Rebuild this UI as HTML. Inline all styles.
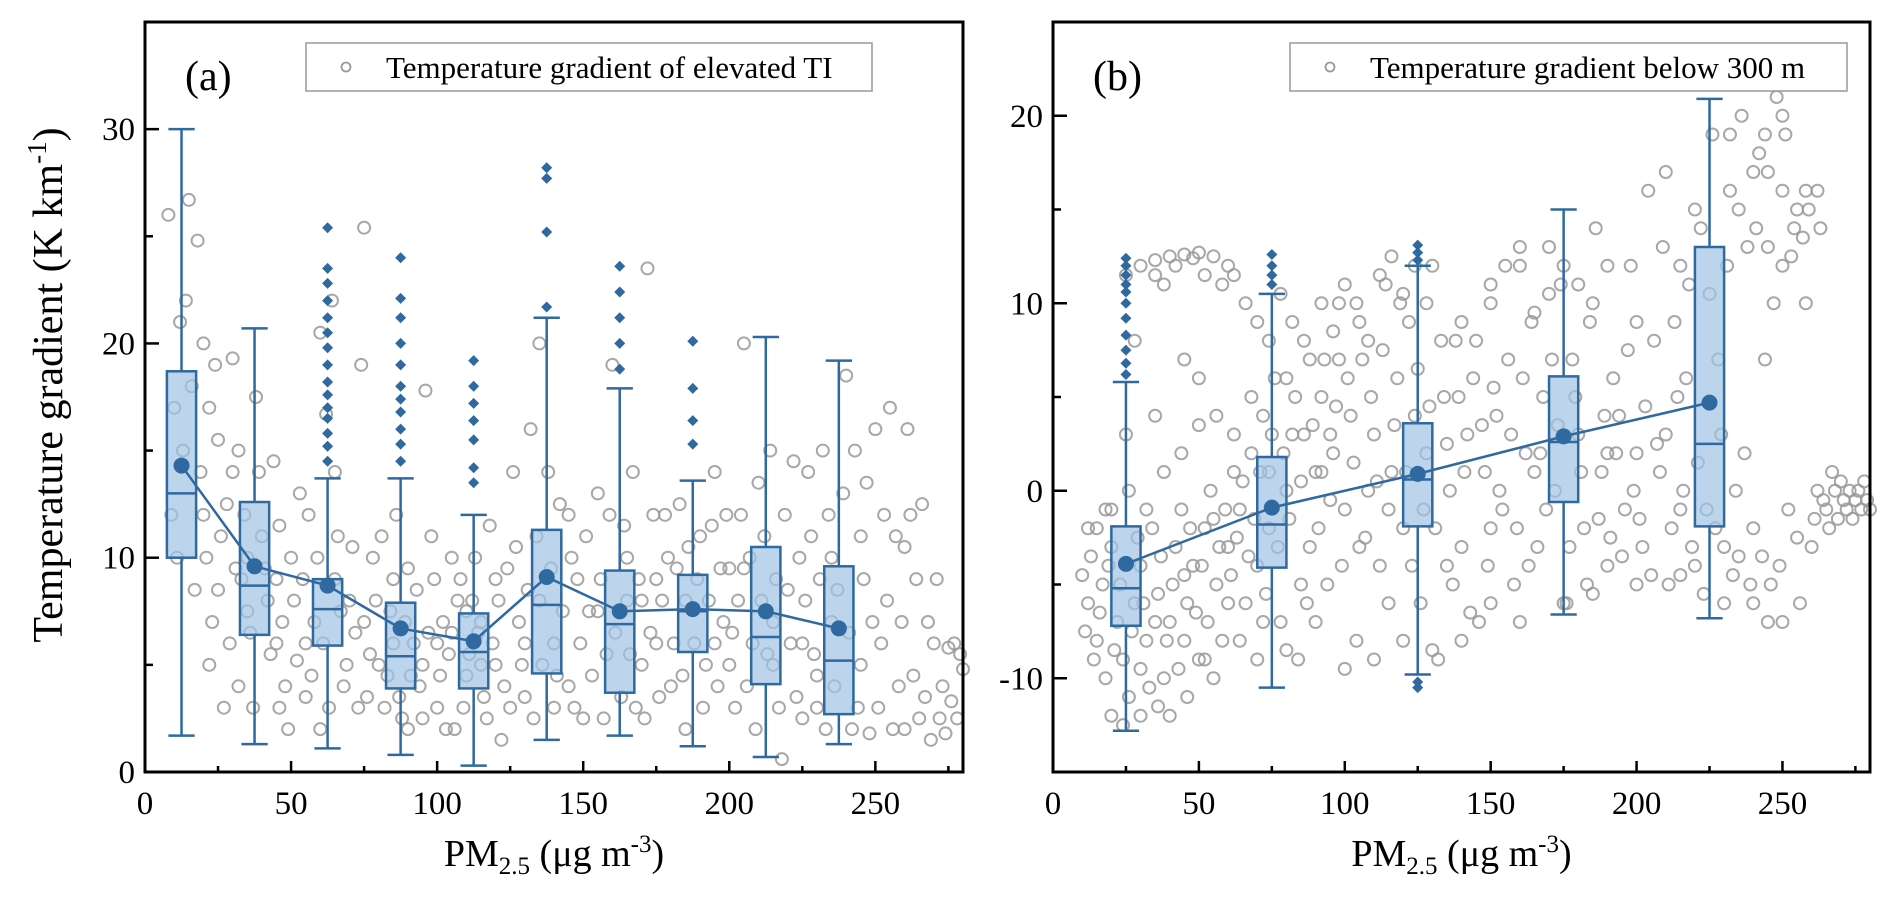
<!DOCTYPE html>
<html><head><meta charset="utf-8"><style>
html,body{margin:0;padding:0;background:#fff}
svg{display:block;font-family:"Liberation Serif",serif}
</style></head><body>
<svg id="chart" width="1892" height="903" viewBox="0 0 1892 903">
<g id="ga"></g>
<g id="gb"></g>
</svg>
<script>
// ---------- Panel (a) data ----------
const aCenters = [12.5,37.5,62.5,87.5,112.5,137.5,162.5,187.5,212.5,237.5];
const aWhiskLo = [1.7,1.3,1.1,0.8,0.3,1.5,1.7,1.2,0.7,1.3];
const aQ1 = [10,6.4,5.9,3.9,3.9,4.6,3.7,5.6,4.1,2.7];
const aMed = [13,8.7,7.6,5.4,5.6,7.8,6.9,7.5,6.3,5.2];
const aQ3 = [18.7,12.6,9.0,7.9,7.4,11.3,9.4,9.2,10.5,9.6];
const aWhiskHi = [30,20.7,13.7,13.7,12,21.2,17.9,13.6,20.3,19.2];
const aMean = [14.3,9.6,8.7,6.7,6.1,9.1,7.5,7.6,7.5,6.7];
const aOutliers = [[],[],[14.5,15.2,15.8,16.5,17,17.6,18.2,19,19.8,20.5,21.2,22,22.8,23.5,25.4],[14.5,15.3,16,16.8,17.4,18,19,20,21.2,22.1,24],[13.5,14.2,15.5,16.4,17.2,18,19.2],[21.7,25.2,27.7,28.2],[18.8,20,21.2,22.4,23.6],[15.3,16.4,17.9,20.1],[],[]];
const aPts = [[15,26.7],[18,24.8],[20,20],[22,17],[25,15.5],[28,12.5],[30,19.3],[33,9],[35,7.5],[17,8.5],[22,5],[27,3],[30,14],[38,17.5],[40,11],[42,8],[45,6],[48,4],[44,14.5],[50,10],[52,5.2],[55,3.5],[58,7],[56,12],[60,20.5],[62,16.7],[64,22],[66,11],[68,4],[70,8],[72,6.5],[74,19],[75,25.4],[78,10],[80,5],[82,3],[84,7.5],[86,12],[88,2.5],[90,9.5],[92,6],[94,4],[96,17.8],[98,11],[100,3],[102,7],[104,5.5],[106,2],[108,9],[110,4.5],[112,8],[114,6.5],[116,3.5],[118,11.5],[120,5],[122,1.5],[124,9.5],[126,14],[128,7],[130,3.5],[132,16],[135,20],[140,6],[142,12.5],[145,4],[148,9],[150,2.5],[152,7.5],[155,13],[158,5.5],[160,19],[165,10],[168,3],[170,8],[172,23.5],[175,6],[178,12],[180,4],[182,9.5],[185,2],[190,11],[192,5],[195,14],[198,7],[200,9.5],[202,3],[205,20],[208,6],[210,13.5],[215,5],[218,0.6],[220,8.5],[222,14.5],[225,2.5],[228,11],[230,4.5],[232,15],[235,7],[240,18.5],[242,2],[245,11],[248,1.8],[250,16],[252,6],[255,17],[258,4],[260,10.5],[262,12],[265,2.5],[268,7],[270,6],[275,5.8],[280,4.8],[25,8.5],[35,10],[45,9],[55,6],[65,9],[75,7],[85,6],[95,5],[105,10],[115,5],[125,3],[135,8],[145,12],[155,7.5],[165,8],[175,9],[185,8],[195,6],[205,9.5],[215,7],[225,6],[235,10],[245,5],[260,2],[20,12],[32,15],[46,3],[60,2],[76,3.5],[90,2],[100,6],[110,7.5],[120,9],[130,6],[140,3],[170,5],[200,5],[230,3]];
const aPts2 = [[14,22],[16,18],[19,14],[21,10],[23,7],[24,19],[26,11],[29,6],[31,9.5],[32,4],[34,12],[36,6.5],[37,3],[39,14],[41,9.5],[43,5.5],[46,11.5],[47,7],[49,2],[51,8],[53,13],[54,9],[57,4.5],[59,10],[61,6],[63,3],[65,14],[67,7.5],[69,5],[71,10.5],[73,3],[77,5.5],[79,8],[81,11],[83,4.5],[85,9],[87,3.5],[89,7],[91,4.5],[93,8.5],[95,2.5],[97,6.5],[99,9],[101,4.5],[103,2],[105,6.5],[107,8],[109,3],[111,5.5],[113,10],[115,7],[117,2.5],[119,6],[121,8],[123,4],[127,10.5],[129,5],[131,8.5],[133,2.5],[134,11],[136,5],[138,14],[139,9.5],[141,4.5],[143,7.5],[146,10],[147,3],[149,6],[151,11],[153,4.5],[156,9],[157,2.5],[159,12],[161,6.5],[163,3.5],[164,11.5],[166,5.5],[167,14],[169,9],[171,2.5],[173,6.5],[174,12],[176,3.5],[177,8],[179,10],[181,6],[183,12.5],[184,4.5],[186,10.5],[188,6],[189,9],[191,3],[193,8],[194,11.5],[196,4],[197,9.5],[199,12],[201,6.5],[203,8],[204,12],[206,4],[207,10],[209,2],[211,8],[212,11],[213,5.5],[214,15],[216,9],[217,3],[219,12],[221,6],[223,3.5],[224,10],[226,8],[227,14],[229,5.5],[231,9],[233,2],[234,12],[236,4],[237,8.5],[239,13],[241,6.5],[243,15],[244,3],[246,9],[247,13.5],[249,7],[251,3],[253,12],[254,8],[256,2],[257,11],[259,7],[261,16],[263,4.5],[264,9],[266,12.5],[267,3.5],[269,1.5],[271,9],[272,2.5],[273,4],[274,1.8],[276,3.3],[277,6],[278,2.5],[279,5.5],[10,17],[11,10],[12,21],[13,15],[9,12],[8,26]];
const aYTicks = [0,10,20,30];
const aXTicks = [0,50,100,150,200,250];

// ---------- Panel (b) data ----------
const bCenters = [25,75,125,175,225];
const bWhiskLo = [-12.8,-10.5,-9.8,-6.6,-6.8];
const bQ1 = [-7.2,-4.1,-1.9,-0.6,-1.9];
const bMed = [-5.2,-1.8,0.6,2.6,2.5];
const bQ3 = [-1.9,1.8,3.6,6.1,13];
const bWhiskHi = [5.8,10.5,12,15,20.9];
const bMean = [-3.9,-0.9,0.9,2.9,4.7];
const bOutliers = [[6.2,6.8,7.5,8.3,9.2,10,10.6,11,11.5,12,12.4],[11,11.5,12,12.6],[12.3,12.7,13.1,-10.2,-10.5],[],[]];
const bPts = [[10,-4.5],[12,-6],[15,-8],[17,-5],[18,-10],[20,-3],[22,-7],[24,-9],[26,-11],[28,-6],[30,-4],[32,-8],[34,-2],[36,-5.5],[38,-10],[40,-7],[42,-3],[44,-1],[46,-6],[48,-4],[50,-9],[52,-2],[54,0],[56,-5],[58,-8],[60,-3],[62,1],[64,-1],[66,-6],[68,2],[70,-4],[72,4],[74,-2],[76,6],[78,-7],[80,0],[82,3],[84,-9],[86,8],[88,-3],[90,1],[92,5],[94,-5],[96,2],[98,10],[100,-1],[102,4],[104,-8],[106,7],[108,0],[110,3],[112,-4],[114,11],[116,1],[118,6],[120,-2],[122,9],[124,4],[126,-6],[128,2],[130,12],[132,-9],[134,5],[136,0],[138,8],[140,-3],[142,3],[144,6],[146,-7],[148,1],[150,10],[152,4],[154,-1],[156,7],[158,-5],[160,12],[162,2],[164,9],[166,-3],[168,5],[170,13],[172,0],[174,11],[176,-6],[178,7],[180,3],[182,-2],[184,9],[186,14],[188,1],[190,-4],[192,6],[194,4],[196,-1],[198,12],[200,2],[202,-3],[204,16],[206,8],[208,1],[210,17],[212,-2],[214,5],[216,0],[218,11],[220,-4],[222,14],[224,-1],[226,19],[228,7],[230,-3],[232,16],[234,0],[236,20],[238,13],[240,-2],[242,18],[244,7],[246,-5],[248,21],[250,16],[252,-1],[254,14],[256,-6],[258,10],[260,-3],[262,0],[265,-1],[268,0],[272,-1],[276,0],[280,-1],[25,11.5],[30,12],[35,12.3],[40,12.5],[45,12.6],[50,12.7],[55,12.5],[60,12],[20,-1],[25,3],[28,8],[35,4],[40,-12],[45,7],[50,6],[55,-10],[245,-7],[250,12],[235,-3.5],[230,-6],[15,-2],[30,-9.5],[45,-8],[60,-6],[70,-9],[85,-5],[95,3],[105,-3],[115,-6],[135,-4],[150,-2],[165,1],[190,2],[210,3],[255,15],[262,16],[245,13]];
const bPts2 = [[11,-7.5],[13,-3.5],[14,-9],[16,-6.5],[19,-4],[21,-8.5],[23,-5],[27,-7.5],[29,-2.5],[31,-6],[33,-10.5],[35,-7],[37,-3.5],[39,-8],[41,-5],[43,-9.5],[45,-4.5],[47,-2],[49,-6.5],[51,-4],[53,-7],[55,-1.5],[57,-3],[59,-1],[61,-4.5],[63,-2.5],[65,0.5],[67,-3.5],[69,-1.5],[71,1],[73,-5.5],[75,3],[77,-3],[79,2],[81,-1.5],[83,5],[85,0.5],[87,-6],[89,3.5],[91,-2],[93,7],[95,-0.5],[97,4.5],[99,-4],[101,6],[103,1.5],[105,9],[107,-2.5],[109,5],[111,0.5],[113,7.5],[115,-1],[117,3.5],[119,10],[121,1],[123,-4],[125,6.5],[127,-1],[129,4.5],[131,-2],[133,8],[135,2.5],[137,-5],[139,5],[141,1],[143,-6.5],[145,8],[147,3.5],[149,-4],[151,5.5],[153,0],[155,12],[157,3],[159,-2],[161,6],[163,-4],[165,9.5],[167,2],[169,-1],[171,7],[173,3.5],[175,12],[177,-3],[179,5],[181,1],[183,-5],[185,10],[187,-1.5],[189,4],[191,-2.5],[193,2],[195,-3.5],[197,7.5],[199,0],[201,-1.5],[203,4.5],[205,-4.5],[207,2.5],[209,13],[211,-5],[213,9],[215,-1],[217,6],[219,-3],[221,1.5],[223,-5.5],[225,10.5],[227,-2],[229,3],[231,12],[233,-4.5],[235,15],[237,2],[239,-5],[241,14],[243,-3.5],[245,17],[247,10],[249,-4],[251,19],[253,12.5],[255,-2.5],[257,13.5],[259,15],[261,-1.5],[263,14],[264,-0.5],[266,-2],[267,1],[269,-1.5],[270,0.5],[271,-0.5],[273,0],[274,-1.5],[275,-0.5],[277,-1],[278,0.5],[279,-0.5],[35,11.5],[38,11],[42,12],[48,12.4],[52,11.5],[58,11],[62,11.5],[66,10],[70,9],[74,8],[78,10.5],[82,9],[88,7],[92,10],[96,8.5],[100,11],[104,10],[108,8],[112,11.5],[116,12.5],[120,10.5],[124,12],[128,10],[140,9],[150,11],[160,13],[170,10.5],[180,11],[190,12],[200,9],[215,12],[220,15],[232,19],[240,17],[244,19],[250,20],[258,16],[20,-12],[24,-12.5],[30,-12],[36,-11.5],[46,-11],[52,-9],[64,-8],[72,-7],[80,-8.5],[90,-7],[100,-9.5],[110,-9],[120,-8],[130,-8.5],[140,-8],[150,-6],[160,-7],[175,-6],[185,-5.5],[200,-5],[215,-4.5],[240,-6],[250,-7],[12,-2],[18,-1],[26,0],[32,-1],[38,1],[44,2],[50,3.5],[56,4],[62,3],[68,5],[74,1],[80,6],[86,3],[92,1],[98,7]];
const bYTicks = [-10,0,10,20];
const bXTicks = [0,50,100,150,200,250];

const NS = "http://www.w3.org/2000/svg";
const BLUE = "#2f69a0", FILL = "rgba(160,195,228,0.7)";
function mk(parent, tag, attrs, txt){
  const e = document.createElementNS(NS, tag);
  for (const k in attrs) e.setAttribute(k, attrs[k]);
  if (txt !== undefined) e.textContent = txt;
  parent.appendChild(e); return e;
}

function drawPanel(g, cfg){
  const L=cfg.L, R=cfg.R, T=22, B=772;
  const sx = v => L + (v - 0) / 280 * (R - L);
  const sy = v => B - (v - cfg.ymin) / (cfg.ymax - cfg.ymin) * (B - T);
  cfg.pts.forEach(p => {
    const c = mk(g, "circle", {cx: sx(p[0]), cy: sy(p[1]), r: 6, fill: "none", stroke: "#999", "stroke-width": 2, opacity: 0.85});
    
    
  });
  const hw = 5;
  cfg.centers.forEach((c, i) => {
    const x = sx(c), x0 = sx(c - hw), x1 = sx(c + hw), cw = (x1 - x0) * 0.45;
    const w1 = mk(g, "line", {x1: x, x2: x, y1: sy(cfg.wlo[i]), y2: sy(cfg.q1[i]), stroke: BLUE, "stroke-width": 2.5});
    
    
    const w2 = mk(g, "line", {x1: x, x2: x, y1: sy(cfg.q3[i]), y2: sy(cfg.whi[i]), stroke: BLUE, "stroke-width": 2.5});
    
    
    [cfg.wlo[i], cfg.whi[i]].forEach(v => {
      const cap = mk(g, "line", {x1: x - cw, x2: x + cw, y1: sy(v), y2: sy(v), stroke: BLUE, "stroke-width": 2.5});
      
      
    });
    const box = mk(g, "rect", {x: x0, y: sy(cfg.q3[i]), width: x1 - x0, height: sy(cfg.q1[i]) - sy(cfg.q3[i]), fill: FILL, stroke: BLUE, "stroke-width": 2.5});
    
    
    const med = mk(g, "line", {x1: x0, x2: x1, y1: sy(cfg.med[i]), y2: sy(cfg.med[i]), stroke: BLUE, "stroke-width": 2.5});
    
    
    cfg.out[i].forEach(v => {
      const y = sy(v), s = 5.5;
      const d = mk(g, "polygon", {points: `${x},${y-s} ${x+s},${y} ${x},${y+s} ${x-s},${y}`, fill: BLUE});
      
      
    });
  });
  const ml = mk(g, "polyline", {points: cfg.centers.map((c, i) => sx(c) + "," + sy(cfg.mean[i])).join(" "), fill: "none", stroke: BLUE, "stroke-width": 2.5});
  
  
  cfg.centers.forEach((c, i) => {
    const d = mk(g, "circle", {cx: sx(c), cy: sy(cfg.mean[i]), r: 8, fill: BLUE});
    
    
  });
  const fr = mk(g, "rect", {x: L, y: T, width: R - L, height: B - T, fill: "none", stroke: "#000", "stroke-width": 3});
  
  
  for (let v = 0; v <= 280; v += 25) {
    const major = v % 50 === 0;
    const t = mk(g, "line", {x1: sx(v), x2: sx(v), y1: B, y2: B - (major ? 11 : 6), stroke: "#000", "stroke-width": 2.5});
    
    
  }
  cfg.xticks.forEach(v => {
    const t = mk(g, "text", {x: sx(v), y: B + 42, "text-anchor": "middle", "font-size": 33}, String(v));
    
    
  });
  for (let v = cfg.ymin; v <= cfg.ymax; v += 5) {
    const major = v % 10 === 0;
    const t = mk(g, "line", {x1: L, x2: L + (major ? 14 : 8), y1: sy(v), y2: sy(v), stroke: "#000", "stroke-width": 2.5});
    
    
  }
  cfg.yticks.forEach(v => {
    const t = mk(g, "text", {x: L - 10, y: sy(v) + 11, "text-anchor": "end", "font-size": 33}, String(v));
    
    
  });
  const xt = mk(g, "text", {x: (L + R) / 2, y: 866, "text-anchor": "middle", "font-size": 38});
  
  
  xt.innerHTML = 'PM<tspan font-size="25" dy="8">2.5</tspan><tspan dy="-8"> (μg m</tspan><tspan font-size="25" dy="-14">-3</tspan><tspan dy="14">)</tspan>';
  const pl = mk(g, "text", {x: L + 40, y: 90, "font-size": 42}, cfg.label);
  
  
  const lg = mk(g, "g", {});
  
  
  mk(lg, "rect", {x: cfg.legX, y: 43, width: cfg.legW, height: 48, fill: "#fff", stroke: "#999", "stroke-width": 1.5});
  const lc = mk(lg, "circle", {cx: cfg.legX + 40, cy: 67, r: 4.5, fill: "none", stroke: "#9a9a9a", "stroke-width": 1.8});
  
  
  const lt = mk(lg, "text", {x: cfg.legX + 80, y: 78, "font-size": 31}, cfg.legText);
  
  
}

drawPanel(document.getElementById("ga"), {L:145, R:963, ymin:0, ymax:35, pts:aPts.concat(aPts2), centers:aCenters, wlo:aWhiskLo, q1:aQ1, med:aMed, q3:aQ3, whi:aWhiskHi, mean:aMean, out:aOutliers, xticks:aXTicks, yticks:aYTicks, label:"(a)", legX:306, legW:566, legText:"Temperature gradient of elevated TI"});
drawPanel(document.getElementById("gb"), {L:1053, R:1870, ymin:-15, ymax:25, pts:bPts.concat(bPts2), centers:bCenters, wlo:bWhiskLo, q1:bQ1, med:bMed, q3:bQ3, whi:bWhiskHi, mean:bMean, out:bOutliers, xticks:bXTicks, yticks:bYTicks, label:"(b)", legX:1290, legW:557, legText:"Temperature gradient below 300 m"});

const svg = document.getElementById("chart");
const yt = mk(svg, "text", {x: 0, y: 0, "text-anchor": "middle", "font-size": 42, transform: "translate(62,385) rotate(-90)"});


yt.innerHTML = 'Temperature gradient (K km<tspan font-size="27" dy="-16">-1</tspan><tspan dy="16">)</tspan>';
</script>
</body></html>
